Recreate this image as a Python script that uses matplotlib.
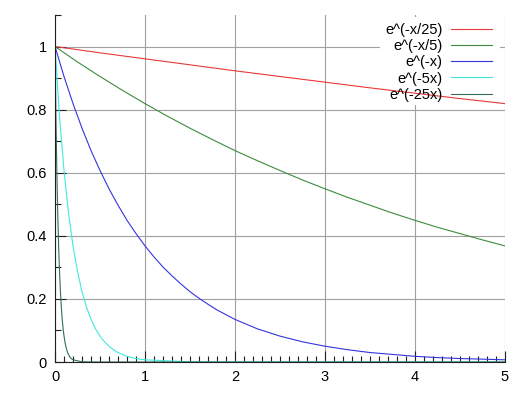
import matplotlib
matplotlib.use("Agg")
import matplotlib.pyplot as plt
from matplotlib.patches import Rectangle
from matplotlib.ticker import MultipleLocator

plt.rcParams["font.family"] = ["Liberation Sans", "DejaVu Sans"]

# values
labels = ["e^(-x/25)", "e^(-x/5)", "e^(-x)", "e^(-5x)", "e^(-25x)"]
colors = ["#e8383a", "#3c8c3c", "#3434e0", "#40e8e0", "#2f6f5a"]
x_ticks = [0, 1, 2, 3, 4, 5]
y_ticks = [0, 0.2, 0.4, 0.6, 0.8, 1.0]
y_tick_labels = ["0", "0.2", "0.4", "0.6", "0.8", "1"]

x_a = [0, 0.5, 1, 1.5, 2, 2.5, 3, 3.5, 4, 4.5, 5]
y_a = [1, 0.980, 0.961, 0.942, 0.923, 0.905, 0.887, 0.869, 0.852, 0.835, 0.819]

x_b = [0, 0.25, 0.5, 0.75, 1, 1.25, 1.5, 1.75, 2, 2.25, 2.5,
       2.75, 3, 3.25, 3.5, 3.75, 4, 4.25, 4.5, 4.75, 5]
y_b = [1, 0.951, 0.905, 0.861, 0.819, 0.779, 0.741, 0.705, 0.670, 0.638, 0.607,
       0.577, 0.549, 0.522, 0.497, 0.472, 0.449, 0.427, 0.407, 0.387, 0.368]

x_c = [0, 0.1, 0.2, 0.3, 0.4, 0.5, 0.6, 0.7, 0.8, 0.9, 1.0,
       1.1, 1.2, 1.3, 1.4, 1.5, 1.6, 1.7, 1.8, 1.9, 2.0,
       2.25, 2.5, 2.75, 3, 3.25, 3.5, 3.75, 4, 4.25, 4.5, 4.75, 5]
y_c = [1, 0.905, 0.819, 0.741, 0.670, 0.607, 0.549, 0.497, 0.449, 0.407, 0.368,
       0.333, 0.301, 0.273, 0.247, 0.223, 0.202, 0.183, 0.165, 0.150, 0.135,
       0.105, 0.082, 0.064, 0.050, 0.039, 0.030, 0.024, 0.018, 0.014, 0.011, 0.009, 0.007]

x_d = [0, 0.05, 0.1, 0.15, 0.2, 0.25, 0.3, 0.35, 0.4, 0.45, 0.5,
       0.55, 0.6, 0.65, 0.7, 0.75, 0.8, 0.85, 0.9, 0.95, 1.0, 1.5, 2, 5]
y_d = [1, 0.779, 0.607, 0.472, 0.368, 0.287, 0.223, 0.174, 0.135, 0.105, 0.082,
       0.064, 0.050, 0.039, 0.030, 0.024, 0.018, 0.014, 0.011, 0.009, 0.007, 0.0006, 0.0, 0.0]

x_e = [0, 0.01, 0.02, 0.03, 0.04, 0.05, 0.06, 0.07, 0.08, 0.09, 0.1,
       0.11, 0.12, 0.13, 0.14, 0.15, 0.16, 0.17, 0.18, 0.19, 0.2, 0.3, 0.5, 5]
y_e = [1, 0.779, 0.607, 0.472, 0.368, 0.287, 0.223, 0.174, 0.135, 0.105, 0.082,
       0.064, 0.050, 0.039, 0.030, 0.024, 0.018, 0.014, 0.011, 0.009, 0.007, 0.0006, 0.0, 0.0]

xs = [x_a, x_b, x_c, x_d, x_e]
ys = [y_a, y_b, y_c, y_d, y_e]

fig = plt.figure(figsize=(5.25, 3.94), dpi=100)
ax = fig.add_axes([0.1048, 0.0812, 0.8571, 0.8808])

for x, y, c, lab in zip(xs, ys, colors, labels):
    ax.plot(x, y, color=c, lw=0.8, label=lab, zorder=2)

ax.set_xlim(0, 5)
ax.set_ylim(0, 1.1)
ax.set_xticks(x_ticks)
ax.set_xticklabels([str(t) for t in x_ticks])
ax.set_yticks(y_ticks)
ax.set_yticklabels(y_tick_labels)
ax.xaxis.set_minor_locator(MultipleLocator(0.1))
ax.yaxis.set_minor_locator(MultipleLocator(0.1))

ax.tick_params(which="major", direction="in", length=8, width=0.8,
               labelsize=10.5, color="#202020", pad=6)
ax.tick_params(which="minor", direction="in", length=4, width=0.8, color="#202020")

ax.grid(True, which="major", color="#a0a0a0", lw=0.8)
ax.set_axisbelow(True)
for s in ["top", "right"]:
    ax.spines[s].set_visible(False)
for s in ["left", "bottom"]:
    ax.spines[s].set_color("#202020")
    ax.spines[s].set_linewidth(0.8)

# white box behind the key, hides the grid only
ax.add_patch(Rectangle((0.722, 0.741), 0.267, 0.253, transform=ax.transAxes,
                       facecolor="white", edgecolor="none", zorder=0.8))

ax.legend(loc="upper right", bbox_to_anchor=(0.971, 0.977), frameon=False,
          markerfirst=False, fontsize=10.5, handlelength=2.8, handletextpad=0.6,
          labelspacing=0.15, borderpad=0, borderaxespad=0)

fig.savefig("out.png", dpi=100)
